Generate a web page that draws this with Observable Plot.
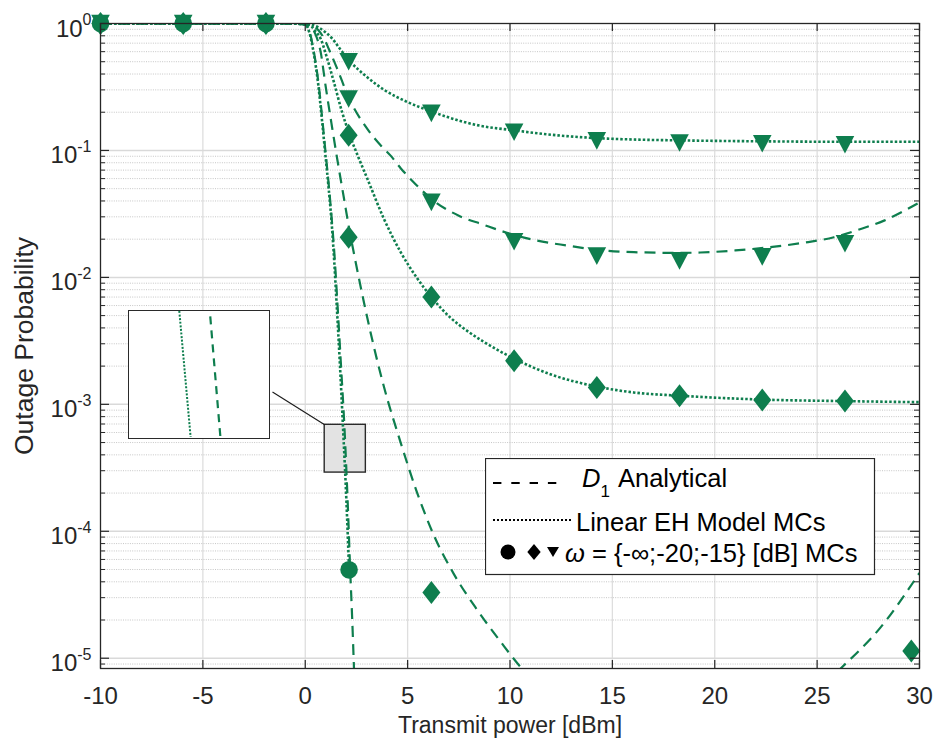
<!DOCTYPE html>
<html>
<head>
<meta charset="utf-8">
<script src="https://cdn.jsdelivr.net/npm/d3@7"></script>
<script src="https://cdn.jsdelivr.net/npm/@observablehq/plot@0.6"></script>
<style>
  html,body{margin:0;padding:0;background:#fff;}
  #wrap{position:relative;width:937px;height:745px;overflow:hidden;font-family:"Liberation Sans",Arial,Helvetica,sans-serif;}
  #wrap svg{display:block;}
  .overlay{position:absolute;box-sizing:border-box;}
</style>
</head>
<body>
<div id="wrap"></div>
<script>
// ---------------- data ----------------
const xTickValues = [-10, -5, 0, 5, 10, 15, 20, 25, 30];
const yDecadeValues = [1e-5, 1e-4, 1e-3, 1e-2, 1e-1, 1];
const xDomain = [-10, 30];
const yDomain = [8.3e-6, 1];

// omega = -inf, D1 analytical (dashed)
const infAnaX = [-10, -1, 0, 0.22, 0.42, 0.66, 0.83, 0.99, 1.15, 1.32, 1.41, 1.57, 1.74, 1.92, 2.07, 2.2, 2.29, 2.38];
const infAnaY = [1, 1, 0.985, 0.85, 0.6, 0.325, 0.178, 0.097, 0.053, 0.0255, 0.0165, 0.0063, 0.0021, 6.3e-4, 1.74e-4, 4.7e-5, 2.1e-5, 8.3e-6];
// omega = -inf, linear EH model MC (dotted)
const infLinX = [-10, -1, 0, 0.2, 0.4, 0.64, 0.81, 0.97, 1.13, 1.3, 1.38, 1.53, 1.69, 1.85, 2.01, 2.14];
const infLinY = [1, 1, 0.985, 0.85, 0.6, 0.325, 0.178, 0.097, 0.053, 0.0255, 0.0165, 0.0063, 0.0021, 6.3e-4, 1.74e-4, 4.97e-5];

// omega = -20 dB, D1 analytical (dashed)
const w20AnaX = [-10, -1, 0, 0.3, 0.5, 0.75, 0.99, 1.32, 1.56, 1.89, 2.15, 2.4, 2.78, 3.03, 3.84, 4.66, 5.47, 6.28, 7.26, 8.4, 9.54, 10.52, 12, 15, 18, 21, 24, 26.15, 28.1, 30];
const w20AnaY = [1, 1, 0.985, 0.93, 0.82, 0.6, 0.325, 0.149, 0.086, 0.042, 0.024, 0.0148, 0.0074, 0.0048, 0.00138, 5.0e-4, 2.0e-4, 9.3e-5, 4.6e-5, 2.4e-5, 1.35e-5, 8.5e-6, 5e-6, 2.6e-6, 1.9e-6, 2.2e-6, 4e-6, 8.3e-6, 1.75e-5, 4.7e-5];
// omega = -20 dB, linear EH model MC (dotted)
const w20LinX = [-10, -1, 0, 0.3, 0.5, 0.75, 1.07, 1.4, 1.8, 2.15, 2.6, 3.03, 3.84, 4.66, 5.4, 6.16, 7.1, 8.0, 8.73, 10.2, 12, 14.24, 16.04, 18.28, 22.32, 26.36, 30];
const w20LinY = [1, 1, 0.99, 0.95, 0.87, 0.76, 0.53, 0.345, 0.2, 0.135, 0.088, 0.06, 0.029, 0.0158, 0.0102, 0.0070, 0.0048, 0.0037, 0.0031, 0.00229, 0.00172, 0.00138, 0.00124, 0.00117, 0.00109, 0.00106, 0.00104];

// omega = -15 dB, D1 analytical (dashed)
const w15AnaX = [-10, -1, 0, 0.3, 0.6, 0.9, 1.15, 1.56, 2.15, 3.03, 3.68, 4.17, 4.66, 5.4, 6.2, 7.5, 8.71, 9.54, 11, 12.8, 14.24, 16.05, 18.28, 19.3, 21, 22.57, 24.3, 25.82, 27, 28.27, 30];
const w15AnaY = [1, 1, 0.99, 0.97, 0.9, 0.77, 0.63, 0.44, 0.255, 0.148, 0.11, 0.091, 0.0725, 0.054, 0.041, 0.0306, 0.026, 0.0233, 0.02, 0.0178, 0.0165, 0.0158, 0.0156, 0.0157, 0.0163, 0.0172, 0.0187, 0.0207, 0.0237, 0.028, 0.039];
// omega = -15 dB, linear EH model MC (dotted)
const w15LinX = [-10, -1, 0, 0.3, 0.7, 1.0, 1.32, 1.7, 2.15, 2.6, 3.03, 3.84, 4.98, 6.16, 7.5, 8.5, 10.2, 12, 14.24, 16, 18.28, 22.32, 26.36, 30];
const w15LinY = [1, 1, 0.995, 0.98, 0.92, 0.85, 0.76, 0.63, 0.51, 0.432, 0.377, 0.301, 0.241, 0.203, 0.172, 0.157, 0.144, 0.133, 0.125, 0.122, 0.12, 0.118, 0.117, 0.117];

// Monte-Carlo markers
const markerX = [-10, -5.96, -1.92, 2.12, 6.16, 10.2, 14.24, 18.28, 22.32, 26.36];
const circleX = [-10, -5.96, -1.92, 2.14];
const circleY = [1, 1, 1, 4.97e-5];
const diamondLinY = [1, 1, 1, 0.132, 0.0070, 0.0022, 0.00136, 0.00117, 0.00108, 0.00106];
const diamondAnaX = [2.12, 6.16, 29.6];
const diamondAnaY = [0.0207, 3.29e-5, 1.14e-5];
const triLinY = [1, 1, 1, 0.50, 0.196, 0.139, 0.119, 0.1145, 0.113, 0.111];
const triAnaX = [2.12, 6.16, 10.2, 14.24, 18.28, 22.32, 26.36];
const triAnaY = [0.254, 0.039, 0.0191, 0.0147, 0.0135, 0.0145, 0.0184];

// zoom window, inset placement, connector
const zoomBoxX = [0.95, 2.96];
const zoomBoxY = [2.9e-4, 6.9e-4];
const insetBoxX = [-8.63, -1.70];
const insetBoxY = [5.25e-4, 5.44e-3];
const insetViewX = [1.77, 2.08];
const insetViewY = [4.0e-4, 4.9e-4];
const connectorX = [-1.6, 0.95];
const connectorY = [1.25e-3, 6.9e-4];

// legend
const legendLabels = ["Analytical", "Linear EH Model MCs", "\u03C9", " = {-\u221E;-20;-15} [dB] MCs"];

// ---------------- helpers ----------------
const green = "#0e7e4e";
const axisColor = "#262626";
const W = 937, H = 745, mL = 100, mR = 18, mT = 23, mB = 77;
const fw = W - mL - mR, fh = H - mT - mB;

const toRows = (xs, ys, s) => xs.map((x, i) => ({x, y: ys[i], s}));
const dashed = [
  ...toRows(infAnaX, infAnaY, "inf"),
  ...toRows(w20AnaX, w20AnaY, "w20"),
  ...toRows(w15AnaX, w15AnaY, "w15")
];
const dotted = [
  ...toRows(infLinX, infLinY, "inf"),
  ...toRows(w20LinX, w20LinY, "w20"),
  ...toRows(w15LinX, w15LinY, "w15")
];
const circles = toRows(circleX, circleY, "c");
const diamonds = [...toRows(markerX, diamondLinY, "lin"), ...toRows(diamondAnaX, diamondAnaY, "ana")];
const triangles = [...toRows(markerX, triLinY, "lin"), ...toRows(triAnaX, triAnaY, "ana")];

const yMinor = [];
for (let e = -6; e <= -1; e++) for (let k = 2; k <= 9; k++) {
  const v = k * Math.pow(10, e);
  if (v >= yDomain[0] && v <= yDomain[1]) yMinor.push(v);
}

const diamondSym = {draw(c) { c.moveTo(0, -11.5); c.lineTo(9, 0); c.lineTo(0, 11.5); c.lineTo(-9, 0); c.closePath(); }};
const triSym = {draw(c) { c.moveTo(-9.3, -8.8); c.lineTo(9.3, -8.8); c.lineTo(0, 8.8); c.closePath(); }};

const lineDash = "11,7";
const lineDot = "2.5,2";
const fontStack = '"Liberation Sans", Arial, Helvetica, sans-serif';

const chart = Plot.plot({
  width: W, height: H,
  marginLeft: mL, marginRight: mR, marginTop: mT, marginBottom: mB,
  x: {domain: xDomain},
  y: {type: "log", domain: yDomain},
  style: {fontFamily: fontStack, fontSize: "24px", background: "white", overflow: "visible"},
  marks: [
    Plot.ruleX(xTickValues.slice(1, -1), {stroke: "#dedede", strokeWidth: 1.3}),
    Plot.ruleY(yMinor, {stroke: "#c6c6c6", strokeWidth: 1, strokeDasharray: "1,1.3"}),
    Plot.ruleY(yDecadeValues.slice(0, -1), {stroke: "#d9d9d9", strokeWidth: 1.5}),
    Plot.rect([0], {x1: zoomBoxX[0], x2: zoomBoxX[1], y1: zoomBoxY[0], y2: zoomBoxY[1], fill: "#e3e3e3", stroke: "#2a2a2a", strokeWidth: 1.4}),
    Plot.link([0], {x1: connectorX[0], y1: connectorY[0], x2: connectorX[1], y2: connectorY[1], stroke: "#1a1a1a", strokeWidth: 1.1}),
    Plot.line(dashed, {x: "x", y: "y", z: "s", stroke: green, strokeWidth: 2.2, strokeDasharray: lineDash, strokeLinecap: "butt", curve: "monotone-x", clip: true}),
    Plot.line(dotted, {x: "x", y: "y", z: "s", stroke: green, strokeWidth: 2.6, strokeDasharray: lineDot, strokeLinecap: "butt", curve: "monotone-x", clip: true}),
    Plot.dot(circles, {x: "x", y: "y", r: 8.8, fill: green, stroke: null}),
    Plot.dot(diamonds, {x: "x", y: "y", r: 9, symbol: diamondSym, fill: green, stroke: null}),
    Plot.dot(triangles, {x: "x", y: "y", r: 9, symbol: triSym, fill: green, stroke: null}),
    Plot.frame({stroke: axisColor, strokeWidth: 1.3}),
    // inward ticks
    Plot.tickY(yDecadeValues, {y: d => d, stroke: axisColor, strokeWidth: 1.2, insetRight: fw - 9}),
    Plot.tickY(yDecadeValues, {y: d => d, stroke: axisColor, strokeWidth: 1.2, insetLeft: fw - 9}),
    Plot.tickY(yMinor, {y: d => d, stroke: axisColor, strokeWidth: 1, insetRight: fw - 5}),
    Plot.tickY(yMinor, {y: d => d, stroke: axisColor, strokeWidth: 1, insetLeft: fw - 5}),
    Plot.tickX(xTickValues, {x: d => d, stroke: axisColor, strokeWidth: 1.2, insetTop: fh - 8}),
    Plot.tickX(xTickValues, {x: d => d, stroke: axisColor, strokeWidth: 1.2, insetBottom: fh - 8}),
    Plot.axisX(xTickValues, {tickSize: 0, tickPadding: 18, tickFormat: d => String(d), label: null, color: axisColor, fontSize: 24}),
    Plot.axisY(yDecadeValues, {tickSize: 0, tickPadding: 9, tickFormat: d => String(Math.round(Math.log10(d))), label: null, color: axisColor, fontSize: 24}),
    Plot.text(["Transmit power [dBm]"], {frameAnchor: "bottom", lineAnchor: "middle", textAnchor: "middle", dy: 57, fontSize: 23, fill: axisColor}),
    Plot.text(["Outage Probability"], {frameAnchor: "left", lineAnchor: "middle", textAnchor: "middle", dx: -76, rotate: -90, fontSize: 26.5, fill: axisColor})
  ]
});

// superscript exponents on y tick labels
d3.select(chart).selectAll('g[aria-label="y-axis tick label"] text').each(function() {
  const e = this.textContent;
  const t = d3.select(this);
  t.text("10").attr("y", 13);
  t.append("tspan").attr("dy", -11.5).attr("font-size", 16).text(e);
});

const wrap = document.getElementById("wrap");
wrap.appendChild(chart);

// ---------------- inset ----------------
const xs = chart.scale("x"), ys = chart.scale("y");
const iLeft = xs.apply(insetBoxX[0]), iRight = xs.apply(insetBoxX[1]);
const iTop = ys.apply(insetBoxY[1]), iBottom = ys.apply(insetBoxY[0]);
const insetDiv = document.createElement("div");
insetDiv.className = "overlay";
Object.assign(insetDiv.style, {
  left: iLeft + "px", top: iTop + "px",
  width: (iRight - iLeft) + "px", height: (iBottom - iTop) + "px",
  border: "1.5px solid #2a2a2a", background: "white"
});
const inset = Plot.plot({
  width: iRight - iLeft - 3, height: iBottom - iTop - 3,
  margin: 0,
  x: {domain: insetViewX, axis: null},
  y: {type: "log", domain: insetViewY, axis: null},
  style: {background: "white", overflow: "hidden"},
  marks: [
    Plot.line(toRows(infAnaX, infAnaY, "inf"), {x: "x", y: "y", stroke: green, strokeWidth: 2.2, strokeDasharray: "8,6", strokeLinecap: "butt", clip: true}),
    Plot.line(toRows(infLinX, infLinY, "inf"), {x: "x", y: "y", stroke: green, strokeWidth: 2, strokeDasharray: "2,1.6", strokeLinecap: "butt", clip: true})
  ]
});
insetDiv.appendChild(inset);
wrap.appendChild(insetDiv);

// ---------------- legend ----------------
const lfs = 25.5;
const lg = d3.create("svg").attr("width", 391).attr("height", 118)
  .attr("class", "overlay")
  .style("left", "485px").style("top", "458px")
  .style("font-family", fontStack);
lg.append("rect").attr("x", 0.5).attr("y", 0.5).attr("width", 389).attr("height", 116)
  .attr("fill", "white").attr("stroke", axisColor).attr("stroke-width", 1.2);
lg.append("line").attr("x1", 8).attr("x2", 74).attr("y1", 25).attr("y2", 25)
  .attr("stroke", "black").attr("stroke-width", 1.8).attr("stroke-dasharray", "8.4,9.9");
const t1 = lg.append("text").attr("x", 97).attr("y", 29).attr("font-size", lfs).attr("fill", "black");
t1.append("tspan").attr("font-style", "italic").text("D");
t1.append("tspan").attr("font-size", 17).attr("dy", 10).text("1");
lg.append("text").attr("x", 133).attr("y", 29).attr("font-size", lfs).attr("fill", "black").text(legendLabels[0]);
lg.append("line").attr("x1", 8).attr("x2", 86).attr("y1", 62).attr("y2", 62)
  .attr("stroke", "black").attr("stroke-width", 2).attr("stroke-dasharray", "2,2");
lg.append("text").attr("x", 91).attr("y", 73).attr("font-size", lfs).attr("fill", "black").text(legendLabels[1]);
lg.append("circle").attr("cx", 23).attr("cy", 94).attr("r", 7.5).attr("fill", "black");
lg.append("path").attr("d", "M49,86 L55.7,94 L49,102 L42.3,94 Z").attr("fill", "black");
lg.append("path").attr("d", "M62,89 L74,89 L68,99 Z").attr("fill", "black");
const t3 = lg.append("text").attr("x", 80).attr("y", 104).attr("font-size", lfs).attr("fill", "black");
t3.append("tspan").attr("font-style", "italic").text(legendLabels[2]);
t3.append("tspan").text(legendLabels[3]);
wrap.appendChild(lg.node());
</script>
</body>
</html>
